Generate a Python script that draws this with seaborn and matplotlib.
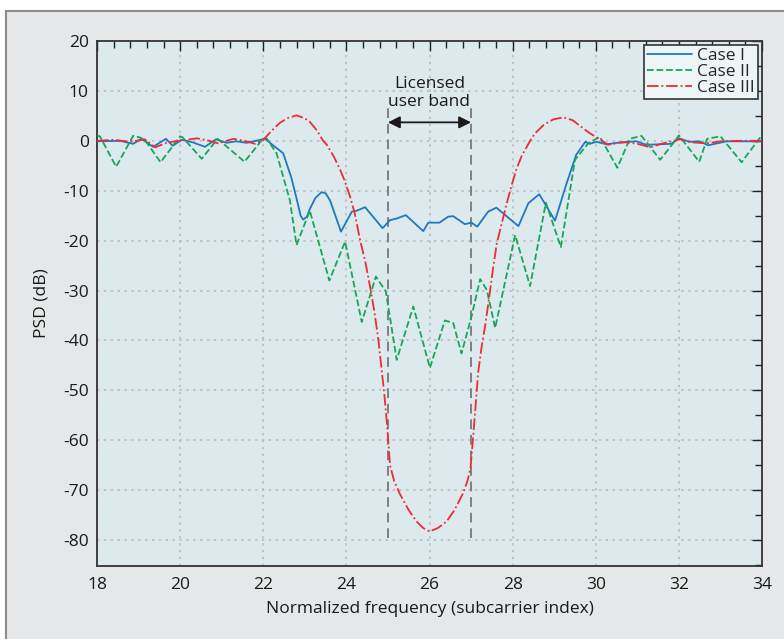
import matplotlib
matplotlib.use("Agg")
import matplotlib.pyplot as plt
from matplotlib.patches import Rectangle
from matplotlib.ticker import MultipleLocator
import seaborn as sns
import pandas as pd

# ---------------- data ----------------
case1_x = [18.0, 18.55, 18.87, 19.07, 19.35, 19.66, 19.82, 20.04, 20.3, 20.6, 20.86, 21.12, 21.35, 21.6,
           22.04, 22.48, 22.68, 22.8, 22.9, 22.96, 23.05, 23.12, 23.25, 23.4, 23.5, 23.61, 23.87, 24.13,
           24.25, 24.45, 24.61, 24.87, 25.05, 25.2, 25.43, 25.85, 25.97, 26.24, 26.45, 26.57, 26.85, 27.01,
           27.15, 27.41, 27.61, 28.14, 28.38, 28.64, 29.02, 29.3, 29.53, 29.75, 29.85, 30.02, 30.26, 30.6,
           30.98, 31.22, 31.82, 32.0, 32.25, 32.5, 32.7, 33.15, 34.0]
case1_y = [-0.1, 0.0, -0.6, 0.4, -1.2, 0.4, -1.0, 0.2, -0.3, -1.2, 0.3, -0.4, -0.1, -0.4,
           0.4, -2.5, -7.5, -11.5, -15.0, -15.8, -15.2, -13.7, -11.5, -10.3, -10.5, -12.0, -18.2, -14.2,
           -14.0, -13.3, -14.9, -17.5, -15.9, -15.6, -14.9, -18.1, -16.4, -16.4, -15.2, -15.1, -16.7, -16.4,
           -17.2, -14.2, -13.4, -17.1, -12.5, -10.7, -16.0, -8.5, -2.8, -0.2, -0.6, -0.2, -0.7, -0.3,
           -0.1, -0.8, -0.6, 0.5, -0.2, -0.1, -0.9, -0.1, -0.1]

case2_x = [18.0, 18.07, 18.46, 18.87, 19.02, 19.15, 19.53, 20.0, 20.06, 20.52, 20.9, 21.55, 21.99, 22.08,
           22.32, 22.64, 22.8, 23.12, 23.59, 23.97, 24.37, 24.71, 24.95, 25.21, 25.61, 26.01, 26.37, 26.57,
           26.77, 27.01, 27.22, 27.38, 27.58, 28.06, 28.42, 28.8, 29.16, 29.5, 29.82, 30.1, 30.52, 30.82,
           31.1, 31.55, 31.91, 32.0, 32.49, 32.68, 33.0, 33.51, 33.94, 34.0]
case2_y = [1.0, 0.9, -5.2, 1.0, 0.7, 0.2, -4.3, 0.9, 0.7, -3.6, 0.4, -4.2, 0.4, 0.5,
           -2.5, -11.9, -20.9, -14.0, -28.0, -20.2, -36.3, -27.2, -30.2, -43.9, -33.2, -45.5, -36.0, -36.5,
           -42.6, -35.2, -27.7, -29.9, -37.5, -18.9, -29.1, -12.4, -21.3, -3.8, -0.5, 0.8, -5.4, 0.4,
           1.0, -3.8, 0.0, 1.1, -4.2, 0.4, 0.9, -4.3, 0.5, 1.0]

case3_x = [18.0, 18.4, 18.8, 19.15, 19.4, 19.7, 20.0, 20.4, 20.65, 20.92, 21.28, 21.55, 21.8, 22.0,
           22.2, 22.4, 22.6, 22.8, 23.0, 23.12, 23.3, 23.44, 23.53, 23.7, 23.85, 23.95, 24.09, 24.2,
           24.33, 24.45, 24.57, 24.67, 24.77, 24.85, 24.91, 24.99, 25.05, 25.15, 25.29, 25.5, 25.69, 25.85,
           26.0, 26.2, 26.41, 26.6, 26.81, 26.92, 26.99, 27.05, 27.11, 27.17, 27.25, 27.34, 27.45, 27.53,
           27.62, 27.74, 27.85, 27.98, 28.1, 28.22, 28.42, 28.54, 28.75, 28.98, 29.22, 29.45, 29.65, 29.86,
           30.1, 30.3, 30.55, 30.74, 31.0, 31.31, 31.5, 31.71, 32.03, 32.3, 32.66, 33.0, 33.5, 34.0]
case3_y = [0.0, 0.2, -0.2, 0.3, -1.3, -0.3, 0.0, 0.5, 0.1, -0.5, 0.4, 0.0, -0.6, 0.2,
           2.0, 3.6, 4.6, 5.1, 4.5, 3.8, 2.0, 0.0, -0.8, -3.2, -5.8, -7.8, -11.2, -14.5,
           -19.9, -24.0, -29.2, -34.0, -39.9, -46.0, -50.5, -58.0, -65.0, -68.2, -70.8, -74.0, -76.3, -77.6,
           -78.3, -77.6, -76.3, -74.0, -70.6, -68.0, -65.3, -59.3, -53.0, -46.5, -41.5, -37.0, -30.5, -25.5,
           -20.5, -16.5, -12.8, -8.8, -5.5, -3.0, 0.0, 1.5, 3.2, 4.3, 4.7, 4.1, 2.8, 1.5,
           0.3, -0.8, -0.4, -0.3, -0.6, -1.3, -0.8, -0.3, 0.3, -0.3, -0.5, -0.1, 0.0, 0.0]

series_names = ["Case I", "Case II", "Case III"]
band_edges = [25, 27]
band_label = "Licensed\nuser band"
x_ticks = [18, 20, 22, 24, 26, 28, 30, 32, 34]
y_ticks = [20, 10, 0, -10, -20, -30, -40, -50, -60, -70, -80]

# ---------------- style ----------------
sns.set_theme(style="white")
plt.rcParams["font.family"] = ["Open Sans", "DejaVu Sans"]
plt.rcParams["axes.unicode_minus"] = False

fig = plt.figure(figsize=(7.84, 6.39), dpi=100, facecolor="white")
# outer panel frame
fig.patches.append(Rectangle((6 / 784, -0.2), 1.2, 1.2 - 11 / 639,
                             transform=fig.transFigure, facecolor="#e6e7e8",
                             edgecolor="#8c8c8c", linewidth=1.5, zorder=-10))

ax = fig.add_axes([97 / 784, 1 - 566 / 639, (762 - 97) / 784, (566 - 41) / 639])
ax.set_facecolor("#dceaed")

colors = ["#1f78c1", "#17a657", "#ee2b36"]
styles = ["-", "--", "-."]
xs = [case1_x, case2_x, case3_x]
ys = [case1_y, case2_y, case3_y]
for name, x, y, c, ls in zip(series_names, xs, ys, colors, styles):
    df = pd.DataFrame({"x": x, "y": y})
    sns.lineplot(data=df, x="x", y="y", ax=ax, color=c, linestyle=ls, linewidth=1.3,
                 label=name, estimator=None, sort=False, zorder=3)

# band lines and arrow
for xe in band_edges:
    ax.plot([xe, xe], [-79.5, 7.3], color="#808080", linestyle=(0, (5, 3)), linewidth=1.4, zorder=2)
ax.annotate("", xy=(band_edges[0], 3.7), xytext=(band_edges[1], 3.7),
            arrowprops=dict(arrowstyle="<|-|>", color="#1a1a1a", lw=1.3,
                            mutation_scale=18, shrinkA=0, shrinkB=0), zorder=4)
ax.text(26, 9.6, band_label, ha="center", va="center", fontsize=12.5, color="#1a1a1a",
        linespacing=1.2)

ax.set_xlim(18, 34)
ax.set_ylim(-85.2, 20)
ax.set_xticks(x_ticks)
ax.set_yticks(y_ticks)
ax.xaxis.set_minor_locator(MultipleLocator(0.4))
ax.yaxis.set_minor_locator(MultipleLocator(5))
ax.tick_params(which="both", direction="in", top=True, right=True, colors="#222222",
               labelcolor="#1a1a1a", labelsize=12.5)
ax.tick_params(which="major", length=7, width=1.0)
ax.tick_params(which="minor", length=5, width=1.0)
ax.tick_params(axis="x", pad=8)
ax.tick_params(axis="y", pad=6)
ax.grid(True, which="major", linestyle=(0, (1.5, 3)), color="#b8b8b8", linewidth=1.1)
ax.set_axisbelow(True)
for s in ax.spines.values():
    s.set_color("#333333")
    s.set_linewidth(1.3)

ax.set_xlabel("Normalized frequency (subcarrier index)", fontsize=12.5, color="#1a1a1a", labelpad=6)
ax.set_ylabel("PSD (dB)", fontsize=12.5, color="#1a1a1a", labelpad=10)

leg = ax.legend(loc="upper right", fontsize=12.5, frameon=True, fancybox=False,
                handlelength=2.6, handletextpad=0.3, borderpad=0.15, labelspacing=0.0,
                borderaxespad=0.25)
leg.get_frame().set_edgecolor("#333333")
leg.get_frame().set_facecolor("#eef5f7")
leg.get_frame().set_alpha(1)
leg.get_frame().set_linewidth(1.2)

fig.savefig("out.png", dpi=100, facecolor=fig.get_facecolor())
